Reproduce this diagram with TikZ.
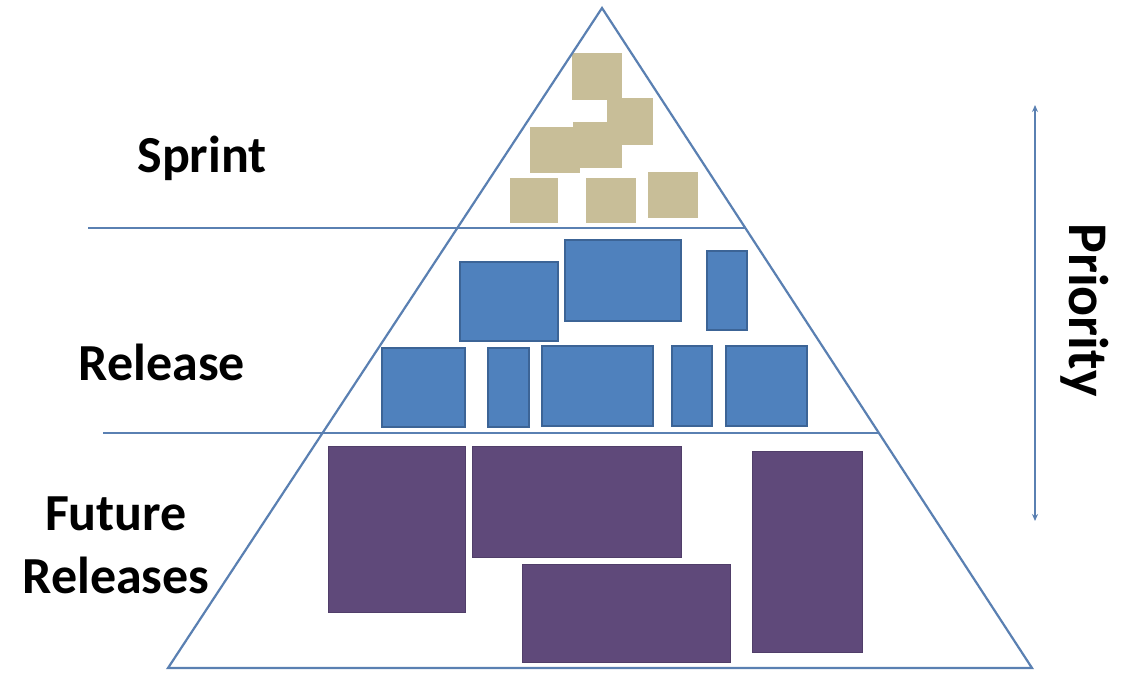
\documentclass[tikz,border=0pt]{standalone}
\usepackage{fontspec}
\setmainfont{Carlito}
\usetikzlibrary{arrows.meta}
\definecolor{edgeblue}{RGB}{90,128,178}
\definecolor{sprintfill}{RGB}{200,190,152}
\definecolor{relfill}{RGB}{79,129,189}
\definecolor{relline}{RGB}{60,100,150}
\definecolor{futfill}{RGB}{95,73,122}
\definecolor{futline}{RGB}{80,62,105}
\tikzset{
  sbox/.style={fill=sprintfill},
  rbox/.style={fill=relfill,draw=relline,line width=1.2pt},
  fbox/.style={fill=futfill,draw=futline,line width=1pt},
  edge/.style={draw=edgeblue,line width=2.2pt},
  lbl/.style={font=\bfseries\fontsize{52}{62}\selectfont,text=black,inner sep=0pt,align=center}
}
\begin{document}
\begin{tikzpicture}[x=1pt,y=-1pt]
\useasboundingbox (0,0) rectangle (1122,678);
\fill[white] (0,0) rectangle (1122,678);
% sprint boxes
\fill[sbox] (572,53) rectangle (622,100);
\fill[sbox] (607,98) rectangle (653,145);
\fill[sbox] (530,127) rectangle (580,173);
\fill[sbox] (573,122) rectangle (622,168);
\fill[sbox] (510,178) rectangle (558,223);
\fill[sbox] (586,178) rectangle (636,223);
\fill[sbox] (648,172) rectangle (698,218);
% release boxes
\path[rbox] (460,262) rectangle (558,341);
\path[rbox] (565,240) rectangle (681,321);
\path[rbox] (707,251) rectangle (747,330);
\path[rbox] (382,348) rectangle (465,427);
\path[rbox] (488,348) rectangle (529,427);
\path[rbox] (542,346) rectangle (653,426);
\path[rbox] (672,346) rectangle (712,426);
\path[rbox] (726,346) rectangle (807,426);
% future boxes
\path[fbox] (328,446) rectangle (465,612);
\path[fbox] (472,446) rectangle (681,557);
\path[fbox] (522,564) rectangle (730,662);
\path[fbox] (752,451) rectangle (862,652);
% pyramid
\coordinate (apex) at (602,8);
\coordinate (bl) at (168,668);
\coordinate (br) at (1032,668);
\draw[edge,line join=miter] (apex) -- (bl) -- (br) -- cycle;
\coordinate (l1a) at (88,228);
\coordinate (l1b) at (746,228);
\coordinate (l2a) at (103,433);
\coordinate (l2b) at (879,433);
\draw[edge] (l1a) -- (l1b);
\draw[edge] (l2a) -- (l2b);
% labels
\node[lbl] (sprint) at (202,158) {Sprint};
\node[lbl] (release) at (162,362) {Release};
\node[lbl] (future) at (116,545) {Future\\[1pt]Releases};
\node[lbl,rotate=-90,font=\bfseries\fontsize{56}{66}\selectfont] (priority) at (1085,310) {Priority};
% arrow
\coordinate (atop) at (1035,105);
\coordinate (abot) at (1035,521);
\draw[draw=edgeblue,line width=2pt,{Stealth[length=7pt,width=6pt]}-{Stealth[length=7pt,width=6pt]}] (atop) -- (abot);
\end{tikzpicture}
\end{document}
